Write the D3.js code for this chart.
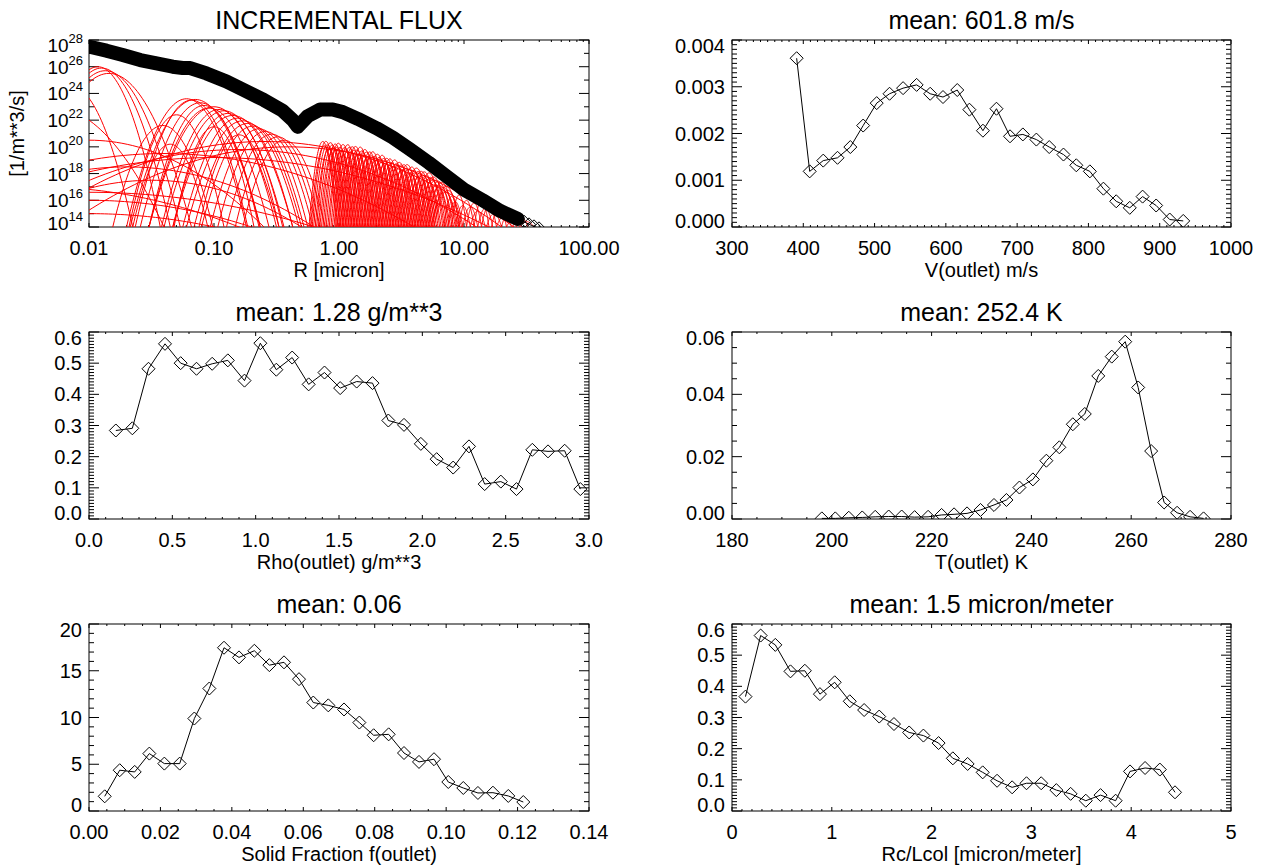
<!DOCTYPE html>
<html><head><meta charset="utf-8">
<script src="https://cdn.jsdelivr.net/npm/d3@7"></script>
<style>
body{margin:0;background:#fff}
text{font-family:"Liberation Sans",Arial,Helvetica,sans-serif;fill:#000}
</style>
</head><body>
<svg id="c" width="1263" height="867"></svg>
<script>
// ---------- DATA ----------
// Panel 1: total incremental flux (log10 R [micron], log10 flux)
const totalLogR    = [-2.0,-1.86,-1.73,-1.59,-1.46,-1.33,-1.25,-1.19,-1.06,-0.9,-0.75,-0.6,-0.45,-0.37,-0.33,-0.25,-0.15,-0.05,0.03,0.15,0.3,0.43,0.57,0.72,0.86,1.0,1.15,1.29,1.36,1.43,1.48,1.52,1.56,1.6];
const totalLogFlux = [27.5,27.2,26.88,26.5,26.25,26.0,25.9,25.9,25.5,24.9,24.2,23.5,22.7,22.0,21.5,22.3,22.8,22.8,22.6,22.1,21.4,20.7,19.8,18.8,17.8,16.8,16.0,15.2,14.9,14.6,14.4,14.2,14.05,13.9];
// Panel 1: individual size modes (log10 centre R, log10 peak flux, half-width in decades at 1e14)
const modeLogR  = [-1.93,-1.90,-1.87,-1.84,-2.15,-2.30,-2.00,-1.40,-0.60,-0.40,-0.80,-1.00,-1.70,-2.00,-2.00,-2.00,-2.40,-1.50,
                   -1.41,-1.35,-1.30,-1.22,-1.18,-1.15,-1.11,-1.08,-1.04,-1.00,-1.00,-0.96,-0.92,-0.89,-0.85,-0.81,-0.80,-0.77,-0.73,-0.69,-0.64,-0.59,-0.54,-0.49,-0.44];
const modeLogPk = [26.0,25.9,25.7,25.5,24.6,23.0,20.5,19.5,20.4,20.0,19.8,19.2,18.5,16.0,16.6,15.0,17.0,17.5,
                   21.6,20.2,22.4,23.6,23.5,23.55,23.3,23.1,22.9,23.0,21.5,22.8,22.7,22.5,22.35,22.15,20.9,21.95,21.75,21.55,21.35,21.15,20.95,20.75,20.5];
const modeHalfW = [0.50,0.55,0.60,0.66,0.50,0.90,1.40,2.00,1.90,1.80,1.90,2.20,1.50,1.30,1.80,1.00,1.60,1.20,
                   0.40,0.30,0.38,0.48,0.45,0.52,0.48,0.44,0.48,0.52,0.32,0.46,0.48,0.44,0.48,0.44,0.32,0.45,0.43,0.41,0.39,0.38,0.36,0.34,0.33];
// Panel 1: narrow modes above 0.5 micron (log10 centre R, log10 peak flux)
const combLogR  = [-0.13,-0.118,-0.105,-0.093,-0.08,-0.068,-0.055,-0.043,-0.03,-0.018,-0.005,0.007,0.02,0.032,0.045,0.057,0.07,0.082,0.095,0.107,
                   0.12,0.132,0.145,0.157,0.17,0.182,0.195,0.207,0.22,0.232,0.245,0.257,0.27,0.282,0.295,0.307,0.32,0.332,0.345,0.357,
                   0.37,0.382,0.395,0.407,0.42,0.432,0.445,0.457,0.47,0.482,0.495,0.507,0.52,0.532,0.545,0.557,0.57,0.582,0.595,0.607,
                   0.62,0.632,0.645,0.657,0.67,0.682,0.695,0.707,0.72,0.732,0.745,0.757,0.77,0.782,0.795,0.807,0.82,0.832,0.845,0.857,0.87];
const combLogPk = [20.40,20.08,20.41,20.15,19.88,20.31,20.14,19.88,20.21,19.94,20.27,19.95,19.69,20.17,19.95,19.78,20.16,19.95,19.63,20.01,
                   19.74,20.03,19.76,19.48,19.98,19.69,19.49,19.80,19.61,19.26,19.62,19.33,19.63,19.29,18.99,19.45,19.21,19.01,19.37,19.13,
                   18.78,19.14,18.84,19.10,18.81,18.51,19.02,18.73,18.53,18.84,18.64,18.30,18.66,18.36,18.67,18.33,18.03,18.49,18.24,18.05,
                   18.41,18.16,17.82,18.17,17.88,18.13,17.84,17.55,18.05,17.72,17.48,17.74,17.50,17.12,17.43,17.09,17.35,16.97,16.63,17.04,16.75];
const sparseLogR  = [0.90,0.93,0.96,0.99,1.02,1.05,1.08,1.11,1.14,1.17,1.20,1.24,1.28,1.32,1.36,1.40,1.45,1.50];
const sparseLogPk = [16.3,15.9,16.4,15.6,16.0,15.5,15.8,15.2,15.9,15.4,15.6,15.0,15.4,14.8,15.1,14.6,14.8,14.4];

// Panel 2: V(outlet)
const vX = [390.7,409,428,448,466,484,503,521,540,559,578,596,616,633,652,671,690,708,727,745,765,783,802,821,839,858,876,895,914,933];
const vY = [0.00361,0.00119,0.00142,0.00148,0.00171,0.00217,0.00265,0.00285,0.00297,0.00304,0.00285,0.00278,0.00293,0.00251,0.00206,0.00253,0.00194,0.00198,0.00187,0.00171,0.00155,0.00132,0.00119,0.00082,0.00055,0.00041,0.00065,0.00046,0.00016,0.00013];
// Panel 3: Rho(outlet)
const rhoX = [0.161,0.260,0.357,0.456,0.550,0.645,0.739,0.833,0.933,1.028,1.124,1.219,1.318,1.413,1.507,1.606,1.701,1.796,1.890,1.991,2.086,2.185,2.280,2.374,2.471,2.565,2.660,2.754,2.854,2.948];
const rhoY = [0.284,0.291,0.482,0.562,0.500,0.482,0.498,0.509,0.444,0.564,0.479,0.518,0.432,0.470,0.420,0.441,0.436,0.316,0.302,0.241,0.192,0.165,0.233,0.112,0.120,0.096,0.222,0.217,0.219,0.096];
// Panel 4: T(outlet)
const tX = [198.0,200.7,203.4,206.1,208.7,211.4,214.0,216.6,219.3,222.0,224.5,227.1,229.8,232.5,235.0,237.6,240.3,243.0,245.6,248.3,250.7,253.4,256.1,258.8,261.4,264.0,266.6,269.2,271.8,274.5];
const tY = [0.0002,0.0002,0.0004,0.0005,0.0007,0.0008,0.0008,0.0006,0.0007,0.0013,0.0015,0.0018,0.0029,0.0045,0.0061,0.0101,0.0127,0.0187,0.0230,0.0304,0.0337,0.0459,0.0521,0.0569,0.0422,0.0218,0.0053,0.0020,0.0007,0.0002];
// Panel 5: solid fraction
const fX = [0.0044,0.0086,0.0128,0.0169,0.0211,0.0254,0.0295,0.0337,0.0378,0.0420,0.0463,0.0505,0.0546,0.0588,0.0628,0.0670,0.0714,0.0757,0.0797,0.0839,0.0882,0.0924,0.0966,0.1006,0.1048,0.1089,0.1131,0.1174,0.1216];
const fY = [1.57,4.36,4.18,6.14,5.07,5.07,9.89,13.1,17.46,16.43,17.14,15.6,15.9,14.1,11.6,11.3,10.86,9.46,8.1,8.2,6.2,5.25,5.54,3.1,2.46,1.93,1.96,1.61,0.96];
// Panel 6: Rc/Lcol
const rcX = [0.135,0.287,0.434,0.586,0.730,0.881,1.029,1.180,1.324,1.475,1.623,1.775,1.918,2.070,2.213,2.361,2.512,2.656,2.807,2.951,3.098,3.250,3.393,3.545,3.693,3.844,3.988,4.139,4.287,4.439];
const rcY = [0.367,0.563,0.533,0.448,0.450,0.375,0.413,0.352,0.324,0.303,0.279,0.252,0.242,0.218,0.169,0.151,0.124,0.097,0.076,0.089,0.089,0.067,0.055,0.033,0.051,0.033,0.127,0.138,0.133,0.060];

// Titles / labels
const titles = ["INCREMENTAL FLUX","mean: 601.8 m/s","mean: 1.28 g/m**3","mean: 252.4 K","mean: 0.06","mean: 1.5 micron/meter"];
const xTitles = ["R [micron]","V(outlet) m/s","Rho(outlet) g/m**3","T(outlet) K","Solid Fraction f(outlet)","Rc/Lcol [micron/meter]"];
const yTitle1 = "[1/m**3/s]";
const p1XTickLabels = ["0.01","0.10","1.00","10.00","100.00"];
const p1YExponents = [14,16,18,20,22,24,26,28];

// ---------- LAYOUT ----------
const svg = d3.select("#c");
const L1 = 89, R1 = 589, L2 = 732, R2 = 1231;
const rowsTop = [40, 332, 624], PH = 187;
const FONT_TICK = 20, FONT_TITLE = 25, FONT_AXIS = 20;
let clipId = 0;

function frame(box){
  const g = svg.append("g");
  g.append("rect").attr("x",box.l).attr("y",box.t).attr("width",box.r-box.l).attr("height",box.b-box.t)
   .attr("fill","none").attr("stroke","#000").attr("stroke-width",1);
  return g;
}
function clipFor(box){
  const id = "clip"+(clipId++);
  svg.append("clipPath").attr("id",id).append("rect")
    .attr("x",box.l).attr("y",box.t).attr("width",box.r-box.l).attr("height",box.b-box.t);
  return "url(#"+id+")";
}
function xTickMarks(g, box, xs, len){
  xs.forEach(px=>{
    g.append("line").attr("x1",px).attr("x2",px).attr("y1",box.b).attr("y2",box.b-len).attr("stroke","#000");
    g.append("line").attr("x1",px).attr("x2",px).attr("y1",box.t).attr("y2",box.t+len).attr("stroke","#000");
  });
}
function yTickMarks(g, box, ys, len){
  ys.forEach(py=>{
    g.append("line").attr("y1",py).attr("y2",py).attr("x1",box.l).attr("x2",box.l+len).attr("stroke","#000");
    g.append("line").attr("y1",py).attr("y2",py).attr("x1",box.r).attr("x2",box.r-len).attr("stroke","#000");
  });
}
function titlesFor(i, box){
  svg.append("text").attr("x",(box.l+box.r)/2).attr("y",box.t-11).attr("text-anchor","middle")
    .attr("font-size",FONT_TITLE).text(titles[i]);
  svg.append("text").attr("x",(box.l+box.r)/2).attr("y",box.b+50).attr("text-anchor","middle")
    .attr("font-size",FONT_AXIS).text(xTitles[i]);
}
function yLabelY(py, box){ return Math.max(box.t+6, Math.min(box.b-6, py)); }
function diamondPath(px, py){ return `M${px-6.5},${py}L${px},${py-6.5}L${px+6.5},${py}L${px},${py+6.5}Z`; }

function linearPanel(i, box, xDom, xStep, xMinorN, xFmt, yDom, yStep, yMinorN, yFmt, xs, ys){
  const x = d3.scaleLinear().domain(xDom).range([box.l, box.r]);
  const y = d3.scaleLinear().domain(yDom).range([box.b, box.t]);
  const g = frame(box);
  const nX = Math.round((xDom[1]-xDom[0])/xStep), nY = Math.round((yDom[1]-yDom[0])/yStep);
  const xMaj = d3.range(nX+1).map(k=>xDom[0]+k*xStep);
  const yMaj = d3.range(nY+1).map(k=>yDom[0]+k*yStep);
  const xMin = [], yMin = [];
  for(let k=0;k<nX;k++) for(let m=1;m<xMinorN;m++) xMin.push(xDom[0]+(k+m/xMinorN)*xStep);
  for(let k=0;k<nY;k++) for(let m=1;m<yMinorN;m++) yMin.push(yDom[0]+(k+m/yMinorN)*yStep);
  xTickMarks(g, box, xMaj.map(x), 4);
  xTickMarks(g, box, xMin.map(x), 2);
  yTickMarks(g, box, yMaj.map(y), 10);
  yTickMarks(g, box, yMin.map(y), 5);
  xMaj.forEach(v=>{
    svg.append("text").attr("x",x(v)).attr("y",box.b+28).attr("text-anchor","middle")
      .attr("font-size",FONT_TICK).text(xFmt(v));
  });
  yMaj.forEach(v=>{
    svg.append("text").attr("x",box.l-7).attr("y",yLabelY(y(v),box)).attr("text-anchor","end")
      .attr("dominant-baseline","central").attr("font-size",FONT_TICK).text(yFmt(v));
  });
  titlesFor(i, box);
  const dg = svg.append("g").attr("clip-path", clipFor(box));
  const pts = xs.map((v,k)=>[x(v), y(ys[k])]);
  dg.append("path").attr("d", d3.line()(pts)).attr("fill","none").attr("stroke","#000").attr("stroke-width",1);
  dg.selectAll("path.m").data(pts).enter().append("path").attr("class","m")
    .attr("d", p=>diamondPath(p[0],p[1]))
    .attr("fill","none").attr("stroke","#000").attr("stroke-width",1);
}

// ---------- PANEL 1 ----------
(function(){
  const box = {l:L1, r:R1, t:rowsTop[0], b:rowsTop[0]+PH};
  const x = d3.scaleLog().domain([0.01,100]).range([box.l, box.r]);
  const y = d3.scaleLog().domain([1e14,1e28]).range([box.b, box.t]);
  const g = frame(box);
  const xMaj = [0.01,0.1,1,10,100];
  const xMin = [];
  for(let d=-2; d<2; d++) for(let m=2;m<10;m++) xMin.push(m*Math.pow(10,d));
  xTickMarks(g, box, xMaj.map(x), 4);
  xTickMarks(g, box, xMin.map(x), 2);
  yTickMarks(g, box, p1YExponents.map(e=>y(Math.pow(10,e))), 10);
  yTickMarks(g, box, d3.range(15,28,2).map(e=>y(Math.pow(10,e))), 5);
  xMaj.forEach((v,k)=>{
    svg.append("text").attr("x",x(v)).attr("y",box.b+28).attr("text-anchor","middle")
      .attr("font-size",FONT_TICK).text(p1XTickLabels[k]);
  });
  p1YExponents.forEach(e=>{
    const cy = Math.max(box.t+5, Math.min(box.b-4, y(Math.pow(10,e))));
    const sup = svg.append("text").attr("x",box.l-6).attr("y",cy-2).attr("text-anchor","end")
      .attr("font-size",13).text(String(e));
    const w = sup.node().getComputedTextLength();
    svg.append("text").attr("x",box.l-6-w).attr("y",cy+7).attr("text-anchor","end")
      .attr("font-size",19).text("10");
  });
  titlesFor(0, box);
  svg.append("text").attr("transform",`translate(${box.l-65},${(box.t+box.b)/2}) rotate(-90)`)
    .attr("text-anchor","middle").attr("font-size",FONT_AXIS).text(yTitle1);

  const dg = svg.append("g").attr("clip-path", clipFor(box));
  const line = d3.line().x(d=>x(Math.pow(10,d[0]))).y(d=>y(Math.pow(10,d[1])));
  function mode(c, pk, hw){
    const pts = [];
    const n = 80;
    for(let k=0;k<=n;k++){
      const lx = c - 1.25*hw + 2.5*hw*k/n;
      const u = (lx-c)/hw;
      pts.push([lx, pk - (pk-14)*u*u]);
    }
    return pts;
  }
  function red(d){
    dg.append("path").attr("d", line(d)).attr("fill","none").attr("stroke","#ff0000").attr("stroke-width",1);
  }
  modeLogR.forEach((c,k)=>red(mode(c, modeLogPk[k], modeHalfW[k])));
  combLogR.forEach((c,k)=>red(mode(c, combLogPk[k], 0.11)));
  sparseLogR.forEach((c,k)=>red(mode(c, sparseLogPk[k], 0.06)));
  // total flux band
  const tot = totalLogR.map((v,k)=>[v, totalLogFlux[k]]);
  const solid = tot.filter(d=>d[0]<=1.43);
  dg.append("path").attr("d", line(solid)).attr("fill","none").attr("stroke","#000")
    .attr("stroke-width",14).attr("stroke-linejoin","round").attr("stroke-linecap","round");
  dg.append("path").attr("d", line(tot)).attr("fill","none").attr("stroke","#000").attr("stroke-width",1);
  tot.forEach(d=>{
    dg.append("path").attr("d", diamondPath(x(Math.pow(10,d[0])), y(Math.pow(10,d[1]))))
      .attr("fill","none").attr("stroke","#000").attr("stroke-width",1);
  });
})();

// ---------- OTHER PANELS ----------
const f3 = d3.format(".3f"), f1 = d3.format(".1f"), f2 = d3.format(".2f"), f0 = d3.format("d");
linearPanel(1, {l:L2,r:R2,t:rowsTop[0],b:rowsTop[0]+PH}, [300,1000],100,10,f0, [0,0.004],0.001,10,f3, vX, vY);
linearPanel(2, {l:L1,r:R1,t:rowsTop[1],b:rowsTop[1]+PH}, [0,3],0.5,5,f1, [0,0.6],0.1,10,f1, rhoX, rhoY);
linearPanel(3, {l:L2,r:R2,t:rowsTop[1],b:rowsTop[1]+PH}, [180,280],20,4,f0, [0,0.06],0.02,4,f2, tX, tY);
linearPanel(4, {l:L1,r:R1,t:rowsTop[2],b:rowsTop[2]+PH}, [0,0.14],0.02,4,f2, [0,20],5,5,f0, fX, fY);
linearPanel(5, {l:L2,r:R2,t:rowsTop[2],b:rowsTop[2]+PH}, [0,5],1,10,f0, [0,0.6],0.1,10,f1, rcX, rcY);
</script>
</body></html>
